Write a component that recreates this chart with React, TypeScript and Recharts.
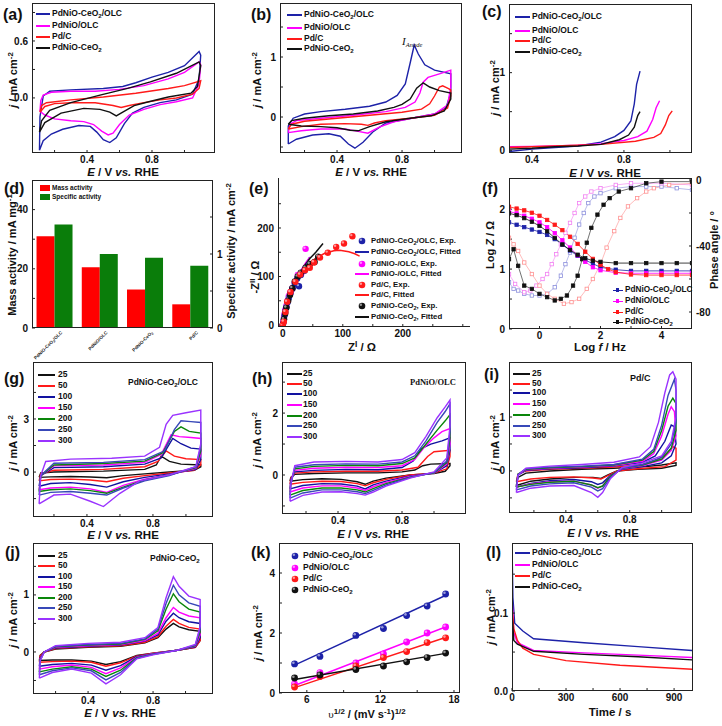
import React from 'react';
import { ComposedChart, BarChart, Bar, Line, Scatter, XAxis, YAxis } from 'recharts';

const FONT = "'Liberation Sans', Arial, sans-serif";
const SERIF = "'Liberation Serif', 'Times New Roman', serif";

const BLUE = '#1d22a8';
const MAGENTA = '#ff00ff';
const RED = '#ff1a1a';
const BLACK = '#111111';
const GREEN = '#0a860a';
const NAVY = '#1212a0';
const BLUE2 = '#3848b8';
const PURPLE = '#9a33ff';

const SAMPLE_NAMES = ['PdNiO-CeO2/OLC', 'PdNiO/OLC', 'Pd/C', 'PdNiO-CeO2'];
const SAMPLE_COLORS = [BLUE, MAGENTA, RED, BLACK];
const RATES = ['25', '50', '100', '150', '200', '250', '300'];
const RATE_COLORS = [BLACK, RED, NAVY, MAGENTA, GREEN, BLUE2, PURPLE];

// (a) CV in KOH, [E, j]
const aBlue = [[0.107,-0.55],[0.11,-0.2],[0.13,0.02],[0.17,0.07],[0.3,0.085],[0.5,0.1],[0.62,0.12],[0.7,0.16],[0.8,0.22],[0.9,0.27],[1.0,0.34],[1.09,0.49],[1.1,0.45],[1.09,0.2],[1.05,0.04],[0.95,-0.02],[0.85,-0.05],[0.75,-0.1],[0.68,-0.16],[0.63,-0.27],[0.58,-0.42],[0.54,-0.47],[0.5,-0.44],[0.46,-0.36],[0.42,-0.3],[0.35,-0.29],[0.25,-0.33],[0.18,-0.38],[0.13,-0.45],[0.107,-0.55]];
const aMagenta = [[0.11,-0.14],[0.115,-0.03],[0.13,0.03],[0.18,0.06],[0.3,0.07],[0.45,0.07],[0.6,0.09],[0.75,0.13],[0.9,0.2],[1.0,0.27],[1.09,0.38],[1.1,0.35],[1.09,0.15],[1.05,0.0],[0.95,-0.04],[0.85,-0.07],[0.75,-0.12],[0.66,-0.18],[0.6,-0.28],[0.56,-0.37],[0.53,-0.39],[0.49,-0.35],[0.44,-0.28],[0.38,-0.25],[0.3,-0.24],[0.2,-0.22],[0.14,-0.18],[0.11,-0.14]];
const aRed = [[0.11,-0.15],[0.12,-0.08],[0.15,-0.05],[0.3,-0.02],[0.5,0.01],[0.7,0.05],[0.9,0.1],[1.0,0.13],[1.1,0.18],[1.09,0.1],[1.05,0.04],[0.95,0.0],[0.85,-0.02],[0.75,-0.05],[0.66,-0.08],[0.61,-0.1],[0.56,-0.08],[0.45,-0.05],[0.3,-0.05],[0.2,-0.06],[0.14,-0.09],[0.11,-0.15]];
const aBlack = [[0.107,-0.36],[0.12,-0.24],[0.17,-0.13],[0.3,-0.05],[0.48,0.03],[0.65,0.1],[0.79,0.17],[0.95,0.26],[1.09,0.38],[1.1,0.34],[1.08,0.12],[1.04,0.05],[0.9,0.01],[0.78,-0.04],[0.69,-0.08],[0.62,-0.15],[0.58,-0.19],[0.54,-0.15],[0.48,-0.12],[0.38,-0.11],[0.24,-0.16],[0.14,-0.26],[0.107,-0.36]];

// (b) CV with ethanol
const bBlue = [[0.1,-0.45],[0.1,-0.15],[0.13,-0.02],[0.2,0.05],[0.3,0.09],[0.45,0.13],[0.6,0.18],[0.7,0.25],[0.77,0.36],[0.82,0.55],[0.85,0.9],[0.875,1.2],[0.9,1.05],[0.94,0.87],[1.0,0.78],[1.1,0.72],[1.1,0.4],[1.07,0.15],[1.0,0.05],[0.9,0.0],[0.8,-0.05],[0.7,-0.1],[0.62,-0.25],[0.56,-0.42],[0.51,-0.52],[0.47,-0.45],[0.42,-0.32],[0.35,-0.28],[0.25,-0.3],[0.15,-0.37],[0.1,-0.45]];
const bMagenta = [[0.1,-0.26],[0.11,-0.12],[0.15,-0.06],[0.3,-0.02],[0.5,0.03],[0.7,0.09],[0.82,0.16],[0.88,0.25],[0.91,0.4],[0.93,0.58],[0.96,0.66],[1.03,0.72],[1.1,0.78],[1.1,0.5],[1.08,0.2],[1.0,0.05],[0.9,0.0],[0.75,-0.08],[0.66,-0.17],[0.59,-0.27],[0.53,-0.24],[0.45,-0.2],[0.3,-0.2],[0.18,-0.23],[0.1,-0.26]];
const bRed = [[0.1,-0.2],[0.12,-0.12],[0.2,-0.07],[0.4,-0.02],[0.6,0.03],[0.8,0.08],[0.92,0.13],[0.97,0.22],[1.0,0.35],[1.03,0.5],[1.05,0.52],[1.08,0.48],[1.1,0.45],[1.1,0.35],[1.08,0.15],[1.0,0.03],[0.85,-0.02],[0.7,-0.06],[0.63,-0.1],[0.59,-0.14],[0.55,-0.12],[0.45,-0.11],[0.3,-0.12],[0.18,-0.16],[0.1,-0.2]];
const bBlack = [[0.1,-0.12],[0.12,-0.06],[0.2,-0.02],[0.35,0.02],[0.5,0.05],[0.65,0.1],[0.75,0.16],[0.8,0.21],[0.85,0.3],[0.89,0.48],[0.93,0.57],[0.97,0.5],[1.03,0.44],[1.1,0.4],[1.1,0.3],[1.06,0.1],[0.98,0.02],[0.85,-0.02],[0.7,-0.08],[0.6,-0.16],[0.53,-0.23],[0.48,-0.22],[0.4,-0.18],[0.3,-0.16],[0.18,-0.15],[0.1,-0.12]];

// (c) LSV
const cBlue = [[0.3,-0.01],[0.4,0.02],[0.5,0.04],[0.6,0.06],[0.7,0.11],[0.76,0.18],[0.8,0.26],[0.83,0.38],[0.845,0.6],[0.855,0.85],[0.87,1.02]];
const cMagenta = [[0.3,0.05],[0.4,0.055],[0.5,0.06],[0.6,0.07],[0.7,0.09],[0.8,0.13],[0.86,0.18],[0.9,0.25],[0.925,0.4],[0.94,0.55],[0.955,0.64]];
const cRed = [[0.3,0.04],[0.5,0.06],[0.7,0.08],[0.85,0.12],[0.93,0.17],[0.96,0.22],[0.98,0.33],[0.995,0.45],[1.01,0.51]];
const cBlack = [[0.3,0.02],[0.4,0.03],[0.5,0.05],[0.6,0.06],[0.7,0.08],[0.78,0.14],[0.82,0.2],[0.845,0.3],[0.86,0.45],[0.87,0.5]];

// (d) activities
const dCategories = ['PdNiO-CeO2/OLC', 'PdNiO/OLC', 'PdNiO-CeO2', 'Pd/C'];
const dMass = [31, 20.5, 13, 8];
const dSpecific = [1.4, 1.0, 0.95, 0.84];

// (e) Nyquist [Z', -Z'']
const eBlueExp = [[0,0],[1,5],[2,12],[3,20],[4,28],[6,37],[8,47],[10,56],[13,66],[16,75],[20,85],[24,96],[27,80],[30,103],[36,112],[44,125]];
const eBlueFit = [[0,0],[3,20],[8,45],[15,70],[22,92],[30,110],[38,125],[45,140]];
const eMagExp = [[0,0],[1,8],[2,15],[3,23],[4,31],[6,40],[8,50],[10,60],[13,68],[16,76],[20,88],[25,103],[31,106],[38,157]];
const eMagFit = [[0,0],[3,22],[8,48],[15,74],[22,95],[30,112],[38,128],[45,140]];
const eRedExp = [[0,0],[1.7,7],[4.4,27],[7.2,48],[12.8,68],[21,89],[29,104],[37,113],[45,118],[52,129],[62,139],[75,149],[89,161],[102,168],[116,183]];
const eRedFit = [[0,0],[3,20],[8,45],[15,70],[25,95],[40,120],[55,138],[70,148],[85,153],[95,154],[110,151],[120,147],[128,142]];
const eBlackExp = [[0,0],[2,12],[4,24],[6,36],[9,50],[12,62],[16,76],[20,90],[25,100],[30,108],[38,118],[45,126],[53,130],[59,141]];
const eBlackFit = [[0,0],[4,25],[10,50],[18,78],[26,100],[35,120],[45,137],[55,150],[67,168]];
const eLegend = ['PdNiO-CeO2/OLC, Exp.', 'PdNiO-CeO2/OLC, Fitted', 'PdNiO-/OLC, Exp.', 'PdNiO-/OLC, Fitted', 'Pd/C, Exp.', 'Pd/C, Fitted', 'PdNiO-CeO2, Exp.', 'PdNiO-CeO2, Fitted'];

// (f) Bode [log f, log Z] and [log f, phase]
const fZBlue = [[-1,1.78],[-0.75,1.74],[-0.5,1.7],[-0.25,1.66],[0,1.62],[0.25,1.57],[0.5,1.5],[0.75,1.41],[1,1.31],[1.25,1.22],[1.5,1.15],[1.75,1.09],[2,1.03],[2.5,0.99],[3,0.97],[3.5,0.97],[4,0.97],[4.5,0.97],[5,0.97]];
const fZMag = [[-1,1.96],[-0.75,1.93],[-0.5,1.89],[-0.25,1.84],[0,1.78],[0.25,1.7],[0.5,1.6],[0.75,1.48],[1,1.36],[1.25,1.23],[1.5,1.12],[1.75,1.03],[2,0.98],[2.5,0.94],[3,0.93],[3.5,0.93],[4,0.93],[4.5,0.93],[5,0.93]];
const fZRed = [[-1,2.04],[-0.75,2.01],[-0.5,1.98],[-0.25,1.94],[0,1.89],[0.25,1.82],[0.5,1.74],[0.75,1.65],[1,1.54],[1.25,1.42],[1.5,1.29],[1.75,1.17],[2,1.07],[2.25,1.0],[2.5,0.95],[3,0.91],[3.5,0.9],[4,0.9],[4.5,0.9],[5,0.9]];
const fZBlack = [[-1,1.93],[-0.75,1.9],[-0.5,1.85],[-0.25,1.79],[0,1.72],[0.25,1.63],[0.5,1.52],[0.75,1.41],[1,1.32],[1.25,1.24],[1.5,1.18],[1.75,1.14],[2,1.12],[2.5,1.1],[3,1.1],[3.5,1.1],[4,1.1],[4.5,1.1],[5,1.1]];
const fPBlue = [[-1,-62],[-0.85,-66],[-0.7,-67],[-0.5,-69],[-0.25,-70],[0,-70],[0.25,-69],[0.5,-65],[0.7,-58],[0.85,-51],[1,-44],[1.15,-35],[1.3,-27],[1.45,-20],[1.6,-14],[1.8,-10],[2,-8],[2.5,-5],[3,-4],[3.5,-4],[4,-4],[4.5,-5],[5,-6]];
const fPMag = [[-1,-57],[-0.8,-63],[-0.5,-68],[-0.3,-67],[-0.1,-64],[0.1,-60],[0.25,-57],[0.4,-51],[0.55,-45],[0.7,-39],[0.85,-32],[1,-26],[1.15,-20],[1.3,-14],[1.5,-10],[1.7,-7],[2,-5],[2.5,-3],[3,-2],[4,-2],[5,-3]];
const fPRed = [[-1,-35],[-0.85,-39],[-0.7,-43],[-0.5,-50],[-0.25,-57],[0,-64],[0.25,-69],[0.5,-72],[0.8,-75],[1.05,-74],[1.3,-72],[1.55,-66],[1.75,-60],[2,-51],[2.2,-41],[2.45,-31],[2.65,-23],[2.9,-16],[3.2,-11],[3.5,-7],[3.75,-5],[4.25,-3],[5,-2]];
const fPBlack = [[-1,-48],[-0.85,-42],[-0.7,-52],[-0.5,-64],[-0.25,-66],[0,-69],[0.25,-71],[0.5,-73],[0.7,-72],[0.9,-70],[1.1,-64],[1.25,-58],[1.4,-48],[1.55,-38],[1.7,-29],[1.9,-21],[2.1,-15],[2.3,-11],[2.6,-7],[3,-5],[3.5,-2],[4,-1],[5,-1]];

// (g) PdNiO-CeO2/OLC scan rates
const g25 = [[0.11,-0.3],[0.12,-0.05],[0.2,0.0],[0.5,0.05],[0.75,0.15],[0.82,0.4],[0.85,0.9],[0.9,0.6],[0.97,0.45],[1.09,0.4],[1.09,0.3],[1.05,0.1],[0.9,0.0],[0.75,-0.1],[0.62,-0.2],[0.52,-0.32],[0.42,-0.28],[0.3,-0.25],[0.18,-0.27],[0.11,-0.3]];
const g50 = [[0.11,-0.5],[0.12,-0.1],[0.2,0.1],[0.5,0.15],[0.75,0.3],[0.83,0.6],[0.88,1.2],[0.93,0.9],[1.0,0.75],[1.09,0.7],[1.09,0.4],[1.05,0.1],[0.9,-0.05],[0.75,-0.2],[0.62,-0.35],[0.52,-0.55],[0.42,-0.45],[0.3,-0.4],[0.18,-0.42],[0.11,-0.5]];
const g100 = [[0.11,-0.8],[0.12,-0.2],[0.2,0.25],[0.5,0.3],[0.75,0.45],[0.85,0.8],[0.92,1.9],[0.97,1.6],[1.03,1.35],[1.09,1.3],[1.09,0.7],[1.06,0.15],[0.9,-0.1],[0.75,-0.3],[0.62,-0.55],[0.52,-0.85],[0.42,-0.7],[0.3,-0.6],[0.18,-0.65],[0.11,-0.8]];
const g150 = [[0.11,-1.0],[0.12,-0.2],[0.2,0.35],[0.5,0.4],[0.75,0.55],[0.85,1.0],[0.91,2.1],[0.96,2.0],[1.03,1.95],[1.09,1.9],[1.09,1.0],[1.06,0.2],[0.9,-0.15],[0.75,-0.4],[0.62,-0.75],[0.52,-1.15],[0.42,-0.95],[0.3,-0.85],[0.18,-0.9],[0.11,-1.0]];
const g200 = [[0.11,-1.1],[0.12,-0.2],[0.2,0.4],[0.5,0.48],[0.75,0.62],[0.86,1.1],[0.93,2.3],[0.97,2.55],[1.02,2.3],[1.09,2.2],[1.09,1.2],[1.06,0.25],[0.9,-0.15],[0.75,-0.45],[0.62,-0.85],[0.52,-1.2],[0.42,-1.05],[0.3,-0.95],[0.18,-1.0],[0.11,-1.1]];
const g250 = [[0.11,-1.3],[0.12,-0.2],[0.2,0.5],[0.5,0.55],[0.75,0.7],[0.87,1.2],[0.93,2.4],[0.97,2.9],[1.03,2.85],[1.09,2.8],[1.09,1.4],[1.06,0.3],[0.9,-0.2],[0.75,-0.5],[0.62,-0.9],[0.52,-1.3],[0.42,-1.2],[0.3,-1.1],[0.18,-1.15],[0.11,-1.3]];
const g300 = [[0.11,-1.8],[0.12,-0.2],[0.15,0.6],[0.3,0.73],[0.55,0.78],[0.75,0.9],[0.84,1.4],[0.88,2.7],[0.92,3.2],[1.0,3.35],[1.09,3.5],[1.09,1.6],[1.06,0.3],[0.9,-0.15],[0.72,-0.5],[0.6,-1.2],[0.5,-1.95],[0.42,-1.65],[0.3,-1.25],[0.2,-1.3],[0.11,-1.8]];

// (h) PdNiO/OLC
const h25 = [[0.1,-0.2],[0.105,-0.08],[0.13,0.02],[0.25,0.05],[0.45,0.07],[0.65,0.07],[0.8,0.1],[0.88,0.16],[0.93,0.3],[0.98,0.35],[1.1,0.37],[1.1,0.3],[1.07,0.12],[1.0,0.05],[0.85,0.0],[0.7,-0.1],[0.62,-0.2],[0.57,-0.3],[0.52,-0.22],[0.42,-0.14],[0.3,-0.12],[0.18,-0.15],[0.1,-0.2]];
const h50 = [[0.1,-0.3],[0.105,-0.1],[0.13,0.06],[0.25,0.1],[0.45,0.12],[0.65,0.12],[0.8,0.16],[0.9,0.25],[0.96,0.6],[1.0,0.75],[1.1,0.8],[1.1,0.6],[1.08,0.2],[1.0,0.06],[0.85,0.0],[0.7,-0.14],[0.62,-0.25],[0.57,-0.35],[0.52,-0.28],[0.42,-0.21],[0.3,-0.2],[0.18,-0.24],[0.1,-0.3]];
const h100 = [[0.1,-0.45],[0.105,-0.15],[0.13,0.1],[0.25,0.15],[0.45,0.18],[0.65,0.17],[0.8,0.24],[0.87,0.45],[0.92,0.85],[0.98,1.0],[1.05,1.1],[1.1,1.2],[1.1,0.8],[1.08,0.3],[1.0,0.06],[0.85,-0.03],[0.7,-0.2],[0.62,-0.32],[0.57,-0.45],[0.52,-0.36],[0.42,-0.29],[0.3,-0.28],[0.18,-0.34],[0.1,-0.45]];
const h150 = [[0.1,-0.55],[0.105,-0.2],[0.13,0.15],[0.25,0.22],[0.45,0.25],[0.65,0.24],[0.8,0.3],[0.88,0.5],[0.94,0.9],[1.0,1.2],[1.05,1.4],[1.1,1.5],[1.1,1.0],[1.08,0.35],[1.0,0.06],[0.85,-0.05],[0.7,-0.24],[0.62,-0.38],[0.57,-0.5],[0.52,-0.42],[0.42,-0.35],[0.3,-0.35],[0.18,-0.42],[0.1,-0.55]];
const h200 = [[0.1,-0.65],[0.105,-0.25],[0.13,0.2],[0.25,0.28],[0.45,0.31],[0.65,0.3],[0.8,0.37],[0.88,0.55],[0.95,1.0],[1.02,1.45],[1.07,1.75],[1.1,1.95],[1.1,1.2],[1.08,0.4],[1.0,0.07],[0.85,-0.07],[0.7,-0.28],[0.62,-0.44],[0.57,-0.55],[0.52,-0.48],[0.42,-0.42],[0.3,-0.42],[0.18,-0.5],[0.1,-0.65]];
const h250 = [[0.1,-0.75],[0.105,-0.3],[0.13,0.25],[0.25,0.33],[0.45,0.36],[0.65,0.35],[0.8,0.42],[0.88,0.62],[0.95,1.1],[1.02,1.7],[1.07,2.05],[1.1,2.3],[1.1,1.4],[1.08,0.45],[1.0,0.08],[0.85,-0.08],[0.7,-0.32],[0.62,-0.5],[0.57,-0.6],[0.52,-0.54],[0.42,-0.48],[0.3,-0.48],[0.18,-0.58],[0.1,-0.75]];
const h300 = [[0.1,-0.85],[0.105,-0.3],[0.13,0.3],[0.25,0.42],[0.45,0.44],[0.65,0.42],[0.8,0.5],[0.88,0.72],[0.95,1.25],[1.02,1.85],[1.07,2.2],[1.1,2.42],[1.1,1.6],[1.08,0.55],[1.0,0.1],[0.85,-0.1],[0.7,-0.36],[0.62,-0.55],[0.57,-0.65],[0.52,-0.6],[0.42,-0.54],[0.3,-0.55],[0.18,-0.66],[0.1,-0.85]];

// (i) Pd/C
const i25 = [[0.09,-0.27],[0.1,-0.12],[0.15,-0.04],[0.3,0.0],[0.5,0.03],[0.7,0.05],[0.9,0.08],[1.0,0.11],[1.09,0.15],[1.09,0.1],[1.0,0.05],[0.85,0.03],[0.72,0.0],[0.66,-0.08],[0.62,-0.14],[0.57,-0.12],[0.45,-0.12],[0.3,-0.15],[0.18,-0.19],[0.09,-0.27]];
const i50 = [[0.09,-0.2],[0.1,-0.06],[0.15,0.0],[0.3,0.03],[0.5,0.05],[0.7,0.07],[0.88,0.12],[0.97,0.2],[1.03,0.32],[1.07,0.45],[1.09,0.42],[1.09,0.2],[1.02,0.08],[0.85,0.04],[0.72,0.0],[0.66,-0.09],[0.62,-0.15],[0.57,-0.13],[0.45,-0.11],[0.3,-0.12],[0.18,-0.15],[0.09,-0.2]];
const i100 = [[0.09,-0.3],[0.1,-0.08],[0.15,0.01],[0.3,0.04],[0.5,0.06],[0.7,0.09],[0.88,0.16],[0.96,0.28],[1.02,0.55],[1.06,0.85],[1.08,0.82],[1.09,0.5],[1.06,0.28],[1.0,0.15],[0.88,0.08],[0.75,0.03],[0.68,-0.08],[0.63,-0.22],[0.6,-0.25],[0.56,-0.2],[0.45,-0.16],[0.3,-0.18],[0.18,-0.23],[0.09,-0.3]];
const i150 = [[0.09,-0.3],[0.1,-0.07],[0.15,0.02],[0.3,0.05],[0.5,0.07],[0.7,0.1],[0.88,0.18],[0.95,0.32],[1.0,0.65],[1.04,1.05],[1.06,1.19],[1.08,1.1],[1.09,0.65],[1.06,0.38],[1.0,0.2],[0.88,0.1],[0.75,0.04],[0.68,-0.1],[0.63,-0.28],[0.6,-0.32],[0.56,-0.26],[0.45,-0.19],[0.3,-0.2],[0.18,-0.24],[0.09,-0.3]];
const i200 = [[0.09,-0.3],[0.1,-0.06],[0.15,0.03],[0.3,0.06],[0.5,0.08],[0.7,0.11],[0.88,0.2],[0.95,0.36],[1.0,0.75],[1.04,1.2],[1.07,1.35],[1.09,1.25],[1.09,0.75],[1.06,0.42],[1.0,0.22],[0.88,0.11],[0.75,0.05],[0.68,-0.1],[0.63,-0.28],[0.6,-0.31],[0.56,-0.26],[0.45,-0.19],[0.3,-0.21],[0.18,-0.25],[0.09,-0.3]];
const i250 = [[0.09,-0.35],[0.1,-0.07],[0.15,0.04],[0.3,0.07],[0.5,0.09],[0.7,0.12],[0.88,0.22],[0.95,0.4],[1.0,0.85],[1.04,1.4],[1.08,1.7],[1.09,1.5],[1.09,0.9],[1.06,0.5],[1.0,0.25],[0.88,0.12],[0.75,0.05],[0.68,-0.12],[0.63,-0.33],[0.6,-0.37],[0.56,-0.3],[0.45,-0.22],[0.3,-0.24],[0.18,-0.28],[0.09,-0.35]];
const i300 = [[0.09,-0.4],[0.1,-0.08],[0.15,0.05],[0.3,0.09],[0.5,0.12],[0.7,0.16],[0.86,0.26],[0.93,0.45],[0.98,0.9],[1.02,1.45],[1.05,1.78],[1.07,1.84],[1.09,1.7],[1.09,1.0],[1.06,0.55],[1.0,0.28],[0.88,0.15],[0.75,0.06],[0.68,-0.14],[0.63,-0.4],[0.6,-0.49],[0.56,-0.4],[0.45,-0.27],[0.3,-0.28],[0.18,-0.32],[0.09,-0.4]];

// (j) PdNiO-CeO2
const j25 = [[0.1,-0.15],[0.105,-0.06],[0.13,0.0],[0.2,0.05],[0.4,0.08],[0.6,0.1],[0.75,0.16],[0.83,0.25],[0.88,0.4],[0.925,0.5],[0.96,0.44],[1.02,0.39],[1.09,0.36],[1.09,0.2],[1.06,0.08],[0.95,0.03],[0.8,-0.02],[0.7,-0.06],[0.6,-0.17],[0.51,-0.22],[0.42,-0.16],[0.3,-0.14],[0.18,-0.14],[0.1,-0.15]];
const j50 = [[0.1,-0.18],[0.105,-0.07],[0.13,0.0],[0.2,0.06],[0.4,0.09],[0.6,0.11],[0.75,0.17],[0.83,0.27],[0.88,0.45],[0.925,0.57],[0.96,0.5],[1.02,0.43],[1.09,0.4],[1.09,0.2],[1.06,0.08],[0.95,0.03],[0.8,-0.02],[0.7,-0.07],[0.6,-0.19],[0.51,-0.25],[0.42,-0.18],[0.3,-0.16],[0.18,-0.17],[0.1,-0.18]];
const j100 = [[0.1,-0.25],[0.105,-0.1],[0.13,0.0],[0.2,0.07],[0.4,0.1],[0.6,0.12],[0.75,0.19],[0.83,0.3],[0.88,0.54],[0.925,0.68],[0.96,0.6],[1.02,0.53],[1.09,0.5],[1.09,0.25],[1.06,0.09],[0.95,0.03],[0.8,-0.03],[0.7,-0.08],[0.6,-0.24],[0.51,-0.32],[0.42,-0.23],[0.3,-0.2],[0.18,-0.22],[0.1,-0.25]];
const j150 = [[0.1,-0.3],[0.105,-0.12],[0.13,0.0],[0.2,0.08],[0.4,0.11],[0.6,0.13],[0.75,0.2],[0.83,0.33],[0.88,0.6],[0.925,0.78],[0.96,0.7],[1.02,0.63],[1.09,0.6],[1.09,0.3],[1.06,0.1],[0.95,0.03],[0.8,-0.03],[0.7,-0.09],[0.6,-0.28],[0.51,-0.38],[0.42,-0.27],[0.3,-0.23],[0.18,-0.26],[0.1,-0.3]];
const j200 = [[0.1,-0.35],[0.105,-0.14],[0.13,0.0],[0.2,0.09],[0.4,0.12],[0.6,0.14],[0.75,0.22],[0.83,0.37],[0.88,0.75],[0.925,1.02],[0.96,0.88],[1.02,0.75],[1.09,0.7],[1.09,0.35],[1.06,0.11],[0.95,0.03],[0.8,-0.04],[0.7,-0.1],[0.6,-0.32],[0.51,-0.43],[0.42,-0.3],[0.3,-0.26],[0.18,-0.3],[0.1,-0.35]];
const j250 = [[0.1,-0.4],[0.105,-0.15],[0.13,0.0],[0.2,0.1],[0.4,0.13],[0.6,0.15],[0.75,0.23],[0.83,0.4],[0.88,0.85],[0.925,1.17],[0.96,1.0],[1.02,0.86],[1.09,0.8],[1.09,0.4],[1.06,0.12],[0.95,0.03],[0.8,-0.04],[0.7,-0.11],[0.6,-0.36],[0.51,-0.49],[0.42,-0.33],[0.3,-0.28],[0.18,-0.33],[0.1,-0.4]];
const j300 = [[0.1,-0.46],[0.105,-0.16],[0.13,0.0],[0.2,0.11],[0.4,0.15],[0.6,0.17],[0.75,0.25],[0.83,0.43],[0.88,0.95],[0.925,1.32],[0.96,1.15],[1.02,0.98],[1.09,0.92],[1.09,0.45],[1.06,0.13],[0.95,0.03],[0.8,-0.05],[0.7,-0.12],[0.6,-0.4],[0.51,-0.56],[0.42,-0.37],[0.3,-0.3],[0.18,-0.36],[0.1,-0.46]];

// (k) peak current vs sqrt(scan rate)
const kSqrtRate = [5, 7.07, 10, 12.25, 14.14, 15.81, 17.32];
const kBlue = [0.97, 1.22, 1.92, 2.15, 2.58, 2.9, 3.3];
const kMagenta = [0.3, 0.68, 1.0, 1.3, 1.7, 2.0, 2.2];
const kRed = [0.2, 0.55, 0.9, 1.18, 1.38, 1.68, 1.84];
const kBlack = [0.5, 0.6, 0.78, 0.9, 1.04, 1.18, 1.33];
const kBlueFit = [[5, 0.93], [17.3, 3.25]];
const kMagentaFit = [[5, 0.25], [17.3, 2.2]];
const kRedFit = [[5, 0.18], [17.3, 1.85]];
const kBlackFit = [[5, 0.45], [17.3, 1.32]];

// (l) chronoamperometry [t, j]
const lBlue = [[0,0.19],[5,0.12],[15,0.087],[60,0.077],[120,0.067],[400,0.062],[700,0.057],[1000,0.052]];
const lMagenta = [[0,0.12],[10,0.075],[30,0.062],[120,0.052],[400,0.049],[700,0.046],[1000,0.043]];
const lRed = [[0,0.11],[10,0.08],[30,0.065],[60,0.055],[120,0.047],[300,0.039],[600,0.033],[1000,0.028]];
const lBlack = [[0,0.1],[10,0.065],[30,0.06],[120,0.051],[400,0.047],[700,0.044],[1000,0.04]];

const pts = (a: number[][]) => a.map(([x, y]) => ({ x, y }));

const YW = 40, RW = 40, MT = 6, XH = 30;
const TICK = { fontSize: 10, fontWeight: 700, fill: '#111', fontFamily: FONT };

type Ax = { domain: [number, number]; ticks: number[]; labels: number[]; fmt?: (v: number) => string };
const f1 = (v: number) => v.toFixed(1);
const labeler = (a: Ax) => (v: number) =>
  a.labels.some((l) => Math.abs(l - v) < 1e-9) ? (a.fmt ? a.fmt(v) : String(v)) : '';

const Sub = ({ children }: any) => <span style={{ fontSize: '0.72em', position: 'relative', top: '0.3em' }}>{children}</span>;
const Sup = ({ children }: any) => <span style={{ fontSize: '0.72em', position: 'relative', top: '-0.45em' }}>{children}</span>;
const chem = (s: string) => {
  const parts = s.split('O2');
  return parts.map((p, i) => (
    <React.Fragment key={i}>{p}{i < parts.length - 1 ? <>O<Sub>2</Sub></> : null}</React.Fragment>
  ));
};

function T({ x, y, size = 8.5, anchor = 'start', rot = false, style, children }: any) {
  const tx = anchor === 'middle' ? '-50%' : anchor === 'end' ? '-100%' : '0';
  return (
    <div style={{ position: 'absolute', left: x, top: y, transform: `translate(${tx},-50%)${rot ? ' rotate(-90deg)' : ''}`, fontSize: size, lineHeight: 1.15, whiteSpace: 'nowrap', ...style }}>
      {children}
    </div>
  );
}

const line = (key: string, data: number[][], color: string, w = 1.4, yId = 'l', dot: any = false) => (
  <Line key={key} yAxisId={yId} data={pts(data)} dataKey="y" type="linear" stroke={color} strokeWidth={w} dot={dot} isAnimationActive={false} />
);

const ball = (color: string, r = 3.2) => (p: any) => (
  <g>
    <circle cx={p.cx} cy={p.cy} r={r} fill={color} />
    <circle cx={p.cx - r * 0.35} cy={p.cy - r * 0.35} r={r * 0.38} fill="#fff" fillOpacity={0.55} />
  </g>
);

const sq = (color: string, filled: boolean) => (p: any) => (
  <rect key={`s${p.index}`} x={p.cx - 1.7} y={p.cy - 1.7} width={3.4} height={3.4} fill={filled ? color : '#fff'} stroke={color} strokeWidth={0.8} />
);

function Panel({ box, x, y, y2, open = false, children }: any) {
  const [x0, y0, x1, y1] = box;
  const axisProps = { allowDataOverflow: true, axisLine: false, tickLine: { stroke: '#222' }, tickSize: -3, interval: 0 as const, tick: TICK };
  return (
    <>
      <div style={{ position: 'absolute', left: x0 - YW, top: y0 - MT }}>
        <ComposedChart width={x1 - x0 + YW + RW} height={y1 - y0 + MT + XH} margin={{ top: MT, right: y2 ? 0 : RW, bottom: 0, left: 0 }}>
          <XAxis type="number" dataKey="x" domain={x.domain} ticks={x.ticks} tickFormatter={labeler(x)} tickMargin={6} height={XH} {...axisProps} />
          <YAxis yAxisId="l" type="number" dataKey="y" domain={y.domain} ticks={y.ticks} tickFormatter={labeler(y)} tickMargin={7} width={YW} {...axisProps} />
          {y2 && (
            <YAxis yAxisId="r" orientation="right" type="number" dataKey="y" domain={y2.domain} ticks={y2.ticks} tickFormatter={labeler(y2)} tickMargin={7} width={RW} {...axisProps} />
          )}
          {children}
        </ComposedChart>
      </div>
      <div
        style={{
          position: 'absolute', left: x0, top: y0, width: x1 - x0, height: y1 - y0, boxSizing: 'border-box',
          ...(open ? { borderLeft: '1.3px solid #222', borderBottom: '1.3px solid #222' } : { border: '1.3px solid #222' }),
        }}
      />
    </>
  );
}

const xE = (c: number, y: number) => (
  <T x={c} y={y} size={11.5} anchor="middle"><i>E</i> / V <i>vs.</i> RHE</T>
);
const yJ = (x: number, c: number) => (
  <T x={x} y={c} size={11} anchor="middle" rot><i>j</i> / mA cm<Sup>-2</Sup></T>
);

const LineKeys = ({ x, w = 15, tx, ys, names, colors, size = 8.5, fmt = chem }: any) => (
  <>
    {names.map((n: string, i: number) => (
      <React.Fragment key={n}>
        <div style={{ position: 'absolute', left: x, top: ys[i] - 1, width: w, height: 2, background: colors[i] }} />
        <T x={tx} y={ys[i]} size={size}>{fmt(n)}</T>
      </React.Fragment>
    ))}
  </>
);

const CatTick = (p: any) => {
  const s: string = p.payload.value;
  const parts = s.split('O2');
  const ax = p.x + 8, ay = p.y - 3;
  return (
    <text x={ax} y={ay} transform={`rotate(-45 ${ax} ${ay})`} textAnchor="end" fontSize={4.6} fontWeight={700} fill="#222" fontFamily={FONT}>
      {parts.length > 1 ? (
        <>
          <tspan>{parts[0]}O</tspan>
          <tspan fontSize={3.4} dy={1}>2</tspan>
          <tspan dy={-1}>{parts[1]}</tspan>
        </>
      ) : s}
    </text>
  );
};

export default function App() {
  const dData = dCategories.map((name, i) => ({ name, mass: dMass[i], spec: dSpecific[i] }));
  const xCV = { ticks: [0.2, 0.4, 0.6, 0.8, 1.0], labels: [0.4, 0.8], fmt: f1 };
  return (
    <div style={{ position: 'absolute', left: 0, top: 0, width: 722, height: 726, background: '#fff', overflow: 'hidden', fontFamily: FONT, fontWeight: 700, color: '#111' }}>
      {/* (a) */}
      <Panel box={[32, 3, 215, 153]} x={{ ...xCV, domain: [0.061, 1.188] }} y={{ domain: [-0.58, 1.0], ticks: [-0.3, 0, 0.3, 0.6, 0.9], labels: [0, 0.6], fmt: f1 }}>
        {[line('a1', aBlue, BLUE), line('a2', aMagenta, MAGENTA), line('a3', aRed, RED), line('a4', aBlack, BLACK)]}
      </Panel>
      <LineKeys x={36} w={14} tx={52} ys={[14, 26, 37, 48]} names={SAMPLE_NAMES} colors={SAMPLE_COLORS} />
      {xE(123, 173)}
      {yJ(13, 80)}
      <T x={3} y={15} size={16}>(a)</T>

      {/* (b) */}
      <Panel box={[280, 3, 462, 153]} x={{ ...xCV, domain: [0.049, 1.169] }} y={{ domain: [-0.6, 1.9], ticks: [-0.5, 0, 0.5, 1, 1.5], labels: [0, 1] }}>
        {[line('b1', bBlue, BLUE), line('b2', bMagenta, MAGENTA), line('b3', bRed, RED), line('b4', bBlack, BLACK)]}
      </Panel>
      <LineKeys x={287} w={15} tx={304} ys={[15, 28, 39, 49]} names={SAMPLE_NAMES} colors={SAMPLE_COLORS} />
      <T x={402} y={41} size={11} style={{ fontFamily: SERIF, fontStyle: 'italic', fontWeight: 400 }}>I<span style={{ fontSize: 6.5, position: 'relative', top: 2 }}>Anode</span></T>
      {xE(371, 173)}
      {yJ(257, 80)}
      <T x={251} y={15} size={16}>(b)</T>

      {/* (c) */}
      <Panel box={[509, 4, 692, 153]} x={{ domain: [0.3, 1.096], ticks: [0.4, 0.6, 0.8, 1.0], labels: [0.4, 0.8], fmt: f1 }} y={{ domain: [-0.03, 1.88], ticks: [0, 0.5, 1, 1.5], labels: [0, 1] }}>
        {[line('c1', cBlue, BLUE), line('c2', cMagenta, MAGENTA), line('c3', cRed, RED), line('c4', cBlack, BLACK)]}
      </Panel>
      <LineKeys x={515} w={15} tx={532} ys={[17, 31, 41, 52]} names={SAMPLE_NAMES} colors={SAMPLE_COLORS} />
      {xE(605, 174)}
      {yJ(495, 88)}
      <T x={482} y={12} size={16}>(c)</T>

      {/* (d) */}
      <div style={{ position: 'absolute', left: 32 - YW, top: 180 - MT }}>
        <BarChart width={181 + YW + RW} height={148 + MT + 40} data={dData} margin={{ top: MT, right: 0, bottom: 0, left: 0 }} barCategoryGap="10%" barGap={0}>
          <XAxis dataKey="name" height={40} tick={CatTick} tickLine={false} axisLine={false} interval={0} />
          <YAxis yAxisId="l" type="number" domain={[0, 50]} ticks={[0, 10, 20, 30, 40]} tickFormatter={labeler({ domain: [0, 50], ticks: [], labels: [0, 20, 40] })} width={YW} tickSize={-3} tickMargin={7} axisLine={false} tickLine={{ stroke: '#222' }} tick={TICK} interval={0} />
          <YAxis yAxisId="r" orientation="right" type="number" domain={[0, 2]} ticks={[0, 0.5, 1, 1.5]} tickFormatter={labeler({ domain: [0, 2], ticks: [], labels: [0, 1] })} width={RW} tickSize={-3} tickMargin={7} axisLine={false} tickLine={{ stroke: '#222' }} tick={TICK} interval={0} />
          <Bar yAxisId="l" dataKey="mass" fill="#ff0000" isAnimationActive={false} />
          <Bar yAxisId="r" dataKey="spec" fill="#0a7d0a" isAnimationActive={false} />
        </BarChart>
      </div>
      <div style={{ position: 'absolute', left: 32, top: 180, width: 181, height: 148, border: '1.3px solid #222', boxSizing: 'border-box' }} />
      <div style={{ position: 'absolute', left: 40, top: 185, width: 10, height: 6, background: '#ff0000' }} />
      <div style={{ position: 'absolute', left: 40, top: 194, width: 10, height: 6, background: '#0a7d0a' }} />
      <T x={52} y={188} size={6.5}>Mass activity</T>
      <T x={52} y={197} size={6.5}>Specific activity</T>
      <T x={12} y={255} size={11} anchor="middle" rot>Mass activity / mA mg<Sup>-1</Sup></T>
      <T x={231} y={251} size={11} anchor="middle" rot>Specific activity / mA cm<Sup>-2</Sup></T>
      <T x={4} y={189} size={16}>(d)</T>

      {/* (e) */}
      <Panel open box={[278, 178, 470, 327]} x={{ domain: [-8, 312], ticks: [0, 50, 100, 150, 200, 250, 300], labels: [0, 100, 200] }} y={{ domain: [-4, 303], ticks: [0, 50, 100, 150, 200, 250], labels: [0, 100, 200] }}>
        {[
          line('e2', eBlueFit, BLUE, 1.5),
          line('e4', eMagFit, MAGENTA, 1.5),
          line('e6', eRedFit, RED, 1.5),
          line('e8', eBlackFit, BLACK, 1.5),
          <Scatter key="e3" yAxisId="l" data={pts(eMagExp)} shape={ball(MAGENTA)} isAnimationActive={false} />,
          <Scatter key="e1" yAxisId="l" data={pts(eBlueExp)} shape={ball(BLUE)} isAnimationActive={false} />,
          <Scatter key="e7" yAxisId="l" data={pts(eBlackExp)} shape={ball(BLACK)} isAnimationActive={false} />,
          <Scatter key="e5" yAxisId="l" data={pts(eRedExp)} shape={ball(RED)} isAnimationActive={false} />,
        ]}
      </Panel>
      {eLegend.map((n, i) => {
        const yy = [241, 252, 264, 274, 285, 295, 306, 317][i];
        const col = SAMPLE_COLORS[Math.floor(i / 2)];
        return (
          <React.Fragment key={n}>
            {i % 2 === 0 ? (
              <svg style={{ position: 'absolute', left: 357, top: yy - 5 }} width={10} height={10}>
                {ball(col, 3.3)({ cx: 5, cy: 5 })}
              </svg>
            ) : (
              <div style={{ position: 'absolute', left: 355, top: yy - 1, width: 14, height: 2, background: col }} />
            )}
            <T x={371} y={yy} size={7.8}>{chem(n)}</T>
          </React.Fragment>
        );
      })}
      <T x={362} y={348} size={11.5} anchor="middle">Z<Sup>I</Sup> / Ω</T>
      <T x={255} y={277} size={11} anchor="middle" rot>-Z<Sup>II</Sup> / Ω</T>
      <T x={249} y={189} size={16}>(e)</T>

      {/* (f) */}
      <Panel box={[509, 178, 692, 329]} x={{ domain: [-1, 5], ticks: [0, 1, 2, 3, 4], labels: [0, 2, 4] }} y={{ domain: [0, 2.52], ticks: [0, 0.5, 1, 1.5, 2], labels: [0, 1, 2] }} y2={{ domain: [-90.3, 1.2], ticks: [0, -20, -40, -60, -80], labels: [0, -40, -80] }}>
        {[
          line('f5', fPBlue, '#8c8fdc', 0.6, 'r', sq('#8c8fdc', false)),
          line('f6', fPMag, '#f27ff2', 0.6, 'r', sq('#f27ff2', false)),
          line('f7', fPRed, '#ff8f8f', 0.6, 'r', sq('#ff8f8f', false)),
          line('f8', fPBlack, BLACK, 0.6, 'r', sq(BLACK, true)),
          line('f1', fZBlue, BLUE, 0.8, 'l', sq(BLUE, true)),
          line('f2', fZMag, MAGENTA, 0.8, 'l', sq(MAGENTA, true)),
          line('f3', fZRed, RED, 0.8, 'l', sq(RED, true)),
          line('f4', fZBlack, BLACK, 0.8, 'l', sq(BLACK, true)),
        ]}
      </Panel>
      {SAMPLE_NAMES.map((n, i) => {
        const yy = [290, 301, 312, 322][i];
        const col = SAMPLE_COLORS[i];
        return (
          <React.Fragment key={n}>
            <div style={{ position: 'absolute', left: 613, top: yy - 0.5, width: 10, height: 1, background: col }} />
            <div style={{ position: 'absolute', left: 616, top: yy - 1.7, width: 3.4, height: 3.4, background: col }} />
            <T x={625} y={yy} size={8.2}>{chem(n)}</T>
          </React.Fragment>
        );
      })}
      <T x={600} y={348} size={11.5} anchor="middle">Log <i>f</i> / Hz</T>
      <T x={490} y={245} size={11} anchor="middle" rot>Log <i>Z</i> / Ω</T>
      <T x={714} y={250} size={11} anchor="middle" rot>Phase angle / °</T>
      <T x={482} y={189} size={16}>(f)</T>

      {/* (g) */}
      <Panel box={[33, 362, 213, 517]} x={{ ...xCV, domain: [0.073, 1.164] }} y={{ domain: [-2.54, 6.22], ticks: [-1.5, 0, 1.5, 3, 4.5], labels: [0, 3] }}>
        {[g25, g50, g100, g150, g200, g250, g300].map((d, i) => line(`g${i}`, d, RATE_COLORS[i]))}
      </Panel>
      <LineKeys x={38} w={17} tx={58} ys={[375, 386, 397, 408, 419, 430, 441]} names={RATES} colors={RATE_COLORS} fmt={(s: string) => s} />
      <T x={128} y={383} size={8.5}>{chem('PdNiO-CeO2/OLC')}</T>
      {xE(123, 536)}
      {yJ(13, 443)}
      <T x={4} y={379} size={16}>(g)</T>

      {/* (h) */}
      <Panel box={[282, 362, 466, 514]} x={{ ...xCV, domain: [0.05, 1.2] }} y={{ domain: [-1.26, 3.65], ticks: [-1, 0, 1, 2, 3], labels: [0, 2] }}>
        {[h25, h50, h100, h150, h200, h250, h300].map((d, i) => line(`h${i}`, d, RATE_COLORS[i]))}
      </Panel>
      <LineKeys x={287} w={15} tx={303} ys={[374, 384, 394, 405, 416, 426, 437]} names={RATES} colors={RATE_COLORS} fmt={(s: string) => s} />
      <T x={410} y={383} size={8.5} style={{ fontFamily: SERIF }}>PdNiO/OLC</T>
      {xE(373, 535)}
      {yJ(257, 440)}
      <T x={252} y={379} size={16}>(h)</T>

      {/* (i) */}
      <Panel box={[509, 362, 692, 513]} x={{ ...xCV, domain: [0.044, 1.19] }} y={{ domain: [-0.78, 2.02], ticks: [-0.5, 0, 0.5, 1, 1.5], labels: [0, 1] }}>
        {[i25, i50, i100, i150, i200, i250, i300].map((d, i) => line(`i${i}`, d, RATE_COLORS[i]))}
      </Panel>
      <LineKeys x={513} w={17} tx={532} ys={[374, 384, 393, 404, 415, 426, 436]} names={RATES} colors={RATE_COLORS} fmt={(s: string) => s} />
      <T x={630} y={378} size={9}>Pd/C</T>
      {xE(603, 534)}
      {yJ(495, 443)}
      <T x={484} y={375} size={16}>(i)</T>

      {/* (j) */}
      <Panel box={[33, 543, 213, 694]} x={{ ...xCV, domain: [0.061, 1.169] }} y={{ domain: [-0.737, 1.91], ticks: [-0.5, 0, 0.5, 1, 1.5], labels: [0, 1] }}>
        {[j25, j50, j100, j150, j200, j250, j300].map((d, i) => line(`j${i}`, d, RATE_COLORS[i]))}
      </Panel>
      <LineKeys x={38} w={17} tx={58} ys={[556, 566, 577, 587, 598, 608, 619]} names={RATES} colors={RATE_COLORS} fmt={(s: string) => s} />
      <T x={150} y={559} size={8.5}>{chem('PdNiO-CeO2')}</T>
      {xE(120, 714)}
      {yJ(13, 620)}
      <T x={5} y={553} size={16}>(j)</T>

      {/* (k) */}
      <Panel box={[279, 543, 460, 693]} x={{ domain: [3.73, 18.49], ticks: [6, 9, 12, 15, 18], labels: [6, 12, 18] }} y={{ domain: [0, 5], ticks: [0, 1, 2, 3, 4], labels: [0, 2, 4] }}>
        {[
          line('k5', kBlueFit, BLUE, 1.4),
          line('k6', kMagentaFit, MAGENTA, 1.4),
          line('k7', kRedFit, RED, 1.4),
          line('k8', kBlackFit, BLACK, 1.4),
          ...[kBlue, kMagenta, kRed, kBlack].map((v, i) => (
            <Scatter key={`k${i}`} yAxisId="l" data={kSqrtRate.map((x, n) => ({ x, y: v[n] }))} shape={ball(SAMPLE_COLORS[i], 3.4)} isAnimationActive={false} />
          )),
        ]}
      </Panel>
      {SAMPLE_NAMES.map((n, i) => {
        const yy = [556, 568, 579, 590][i];
        return (
          <React.Fragment key={n}>
            <svg style={{ position: 'absolute', left: 290, top: yy - 5 }} width={10} height={10}>
              {ball(SAMPLE_COLORS[i], 3.3)({ cx: 5, cy: 5 })}
            </svg>
            <T x={303} y={yy} size={8.5}>{chem(n)}</T>
          </React.Fragment>
        );
      })}
      <T x={367} y={714} size={11} anchor="middle"><span style={{ fontFamily: SERIF, fontWeight: 400 }}>υ</span><Sup>1/2</Sup> / (mV s<Sup>-1</Sup>)<Sup>1/2</Sup></T>
      {yJ(258, 633)}
      <T x={251} y={553} size={16}>(k)</T>

      {/* (l) */}
      <Panel box={[512, 543, 693, 691]} x={{ domain: [0, 1005], ticks: [0, 150, 300, 450, 600, 750, 900], labels: [0, 300, 600, 900] }} y={{ domain: [0, 0.19], ticks: [0, 0.05, 0.1, 0.15], labels: [0, 0.1], fmt: f1 }}>
        {[line('l1', lBlue, BLUE), line('l2', lMagenta, MAGENTA), line('l3', lRed, RED), line('l4', lBlack, BLACK)]}
      </Panel>
      <LineKeys x={515} w={15} tx={532} ys={[553, 565, 576, 587]} names={SAMPLE_NAMES} colors={SAMPLE_COLORS} />
      <T x={610} y={713} size={11.5} anchor="middle">Time / s</T>
      {yJ(491, 617)}
      <T x={486} y={553} size={16}>(l)</T>
    </div>
  );
}
